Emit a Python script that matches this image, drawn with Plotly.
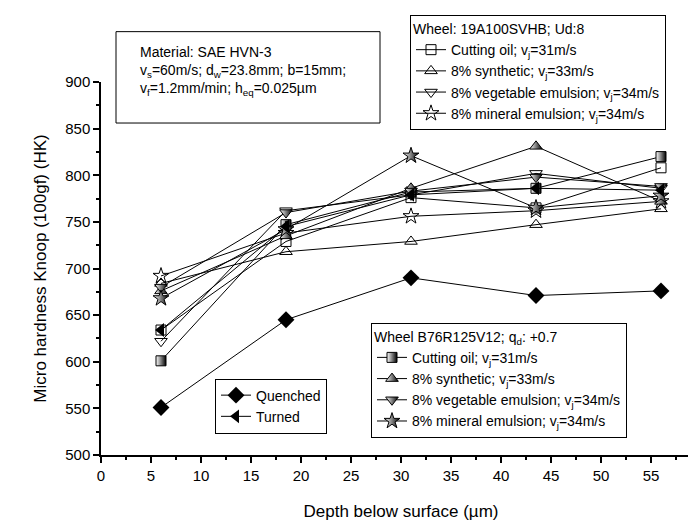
import plotly.graph_objects as go

# ---- data ----
depth = [6, 18.5, 31, 43.5, 56]

ud8_cutting_oil = [634, 729, 776, 765, 808]
ud8_synthetic = [684, 718, 729, 747, 764]
ud8_vegetable = [622, 762, 779, 802, 786]
ud8_mineral = [692, 738, 756, 762, 772]

b76_cutting_oil = [601, 747, 782, 786, 820]
b76_synthetic = [676, 735, 786, 831, 772]
b76_vegetable = [680, 760, 783, 798, 788]
b76_mineral = [668, 742, 821, 765, 778]

quenched = [551, 645, 690, 671, 676]
turned = [634, 745, 779, 786, 784]

fluid_labels = [
    "Cutting oil; v<sub>j</sub>=31m/s",
    "8% synthetic; v<sub>j</sub>=33m/s",
    "8% vegetable emulsion; v<sub>j</sub>=34m/s",
    "8% mineral emulsion; v<sub>j</sub>=34m/s",
]
x_ticks = [0, 5, 10, 15, 20, 25, 30, 35, 40, 45, 50, 55, 60]
y_ticks = [500, 550, 600, 650, 700, 750, 800, 850, 900]

FONT = "Arial, Liberation Sans, sans-serif"

fig = go.Figure()

ud8_series = [ud8_cutting_oil, ud8_synthetic, ud8_vegetable, ud8_mineral]
ud8_symbols = ["square-open", "triangle-up-open", "triangle-down-open", "star-open"]
ud8_sizes = [10, 11, 11, 12]
for vals, sym, sz, lab in zip(ud8_series, ud8_symbols, ud8_sizes, fluid_labels):
    fig.add_trace(go.Scatter(
        x=depth, y=vals, mode="lines+markers", name=lab, legend="legend",
        line=dict(color="black", width=1),
        marker=dict(symbol=sym, size=sz, color="black", line=dict(width=1, color="black")),
    ))

b76_series = [b76_cutting_oil, b76_synthetic, b76_vegetable, b76_mineral]
b76_symbols = ["square", "triangle-up", "triangle-down", "star"]
b76_sizes = [10, 11, 11, 12]
for vals, sym, sz, lab in zip(b76_series, b76_symbols, b76_sizes, fluid_labels):
    fig.add_trace(go.Scatter(
        x=depth, y=vals, mode="lines+markers", name=lab, legend="legend2",
        line=dict(color="black", width=1),
        marker=dict(symbol=sym, size=sz, color="white",
                    gradient=dict(type="horizontal", color="black"),
                    line=dict(width=1, color="black")),
    ))

fig.add_trace(go.Scatter(
    x=depth, y=quenched, mode="lines+markers", name="Quenched", legend="legend3",
    line=dict(color="black", width=1),
    marker=dict(symbol="diamond", size=13, color="black"),
))
fig.add_trace(go.Scatter(
    x=depth, y=turned, mode="lines+markers", name="Turned", legend="legend3",
    line=dict(color="black", width=1),
    marker=dict(symbol="triangle-left", size=12, color="black"),
))

legend_common = dict(
    font=dict(family=FONT, size=14, color="black"),
    bgcolor="white", bordercolor="black", borderwidth=1,
    xanchor="left", yanchor="top", tracegroupgap=0, itemwidth=30,
)

fig.update_layout(
    width=696, height=521,
    margin=dict(l=93, r=3, t=74, b=74, autoexpand=False),
    paper_bgcolor="white", plot_bgcolor="white",
    font=dict(family=FONT, size=15, color="black"),
    showlegend=True,
    legend=dict(x=0.515, y=1.18,
                title=dict(text="Wheel: 19A100SVHB; Ud:8", font=dict(family=FONT, size=14)),
                **legend_common),
    legend2=dict(x=0.45, y=0.355,
                 title=dict(text="Wheel B76R125V12; q<sub>d</sub>: +0.7", font=dict(family=FONT, size=14)),
                 **legend_common),
    legend3=dict(x=0.19, y=0.205, **legend_common),
    xaxis=dict(
        range=[0, 60], tickvals=x_ticks, ticktext=[str(t) for t in x_ticks],
        showline=True, linecolor="black", linewidth=1.5, showgrid=False, zeroline=False,
        ticks="outside", ticklen=6, tickwidth=1.5, tickcolor="black",
        minor=dict(dtick=2.5, ticks="outside", ticklen=3, tickwidth=1.5, tickcolor="black"),
        tickfont=dict(family=FONT, size=15),
        title=dict(text="Depth below surface (\u00b5m)", font=dict(family=FONT, size=17), standoff=22),
    ),
    yaxis=dict(
        range=[500, 900], tickvals=y_ticks, ticktext=[str(t) for t in y_ticks],
        showline=True, linecolor="black", linewidth=1.5, showgrid=False, zeroline=False,
        ticks="outside", ticklen=6, tickwidth=1.5, tickcolor="black",
        minor=dict(dtick=25, ticks="outside", ticklen=3, tickwidth=1.5, tickcolor="black"),
        tickfont=dict(family=FONT, size=15),
        title=dict(text="Micro hardness Knoop (100gf) (HK)", font=dict(family=FONT, size=17), standoff=14),
    ),
)

# material info box
fig.add_shape(type="rect", xref="paper", yref="paper",
              x0=0.025, x1=0.465, y0=0.89, y1=1.135,
              line=dict(color="black", width=1), fillcolor="white", layer="above")
fig.add_annotation(
    xref="paper", yref="paper", x=0.062, y=1.108, xanchor="left", yanchor="top",
    align="left", showarrow=False,
    font=dict(family=FONT, size=14, color="black"),
    text=("Material: SAE HVN-3<br>"
          "v<sub>s</sub>=60m/s; d<sub>w</sub>=23.8mm; b=15mm;<br>"
          "v<sub>f</sub>=1.2mm/min; h<sub>eq</sub>=0.025\u00b5m"),
)

fig.write_html("out.html")
